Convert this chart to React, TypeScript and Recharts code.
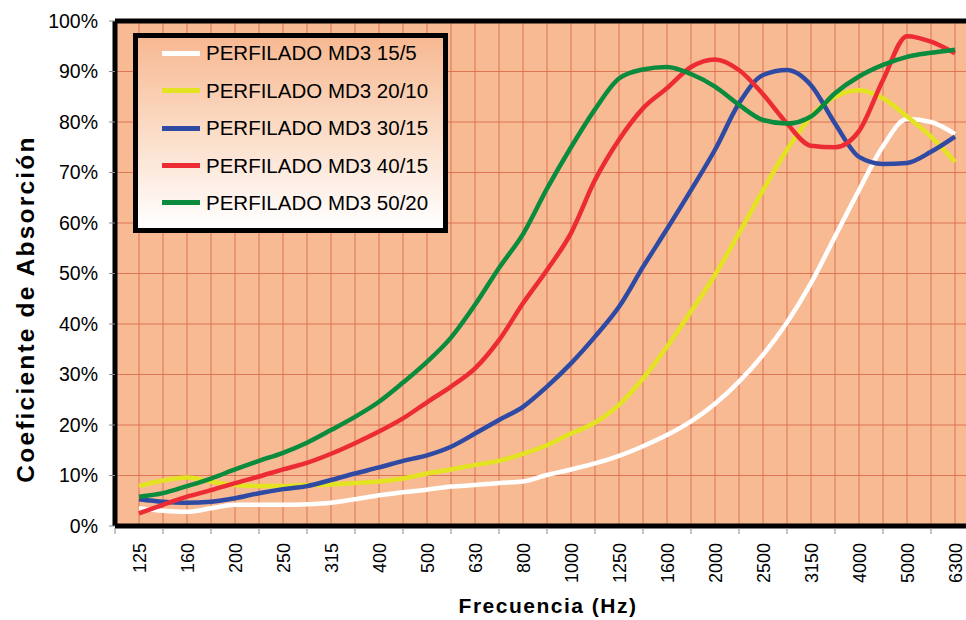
import React from 'react';
import { LineChart, Line, XAxis, YAxis, CartesianGrid, ReferenceLine } from 'recharts';

const FREQS = ['125', '160', '200', '250', '315', '400', '500', '630', '800', '1000', '1250', '1600', '2000', '2500', '3150', '4000', '5000', '6300'];
const Y_TICKS = [0, 10, 20, 30, 40, 50, 60, 70, 80, 90, 100];

// readings at every category and half-way between categories
const MD3_15_5 = [3.5, 3.0, 2.8, 3.5, 4.2, 4.2, 4.2, 4.3, 4.6, 5.3, 6.1, 6.7, 7.2, 7.8, 8.1, 8.5, 8.8, 10.1, 11.2, 12.4, 13.9, 15.8, 18.0, 20.7, 24.2, 28.6, 33.9, 40.3, 48.1, 57.3, 66.5, 75.2, 80.6, 80.0, 77.6];
const MD3_20_10 = [7.9, 9.0, 9.6, 8.8, 8.1, 7.9, 7.9, 8.1, 8.2, 8.5, 8.8, 9.4, 10.4, 11.2, 12.1, 12.9, 14.3, 16.0, 18.3, 20.5, 24.0, 29.2, 35.5, 42.5, 49.7, 58.0, 66.5, 74.5, 81.1, 85.0, 86.3, 84.7, 81.1, 77.1, 72.1];
const MD3_30_15 = [5.3, 4.8, 4.6, 4.8, 5.5, 6.5, 7.3, 7.9, 9.1, 10.4, 11.6, 12.9, 14.0, 15.7, 18.3, 21.0, 23.6, 27.6, 32.2, 37.5, 43.4, 51.3, 58.8, 66.5, 74.5, 83.7, 89.3, 90.3, 87.3, 79.7, 73.1, 71.7, 71.9, 74.1, 77.1];
const MD3_40_15 = [2.5, 4.2, 5.8, 7.1, 8.5, 9.8, 11.2, 12.5, 14.3, 16.4, 18.7, 21.3, 24.5, 27.6, 31.2, 36.8, 44.1, 50.7, 58.0, 68.5, 76.5, 82.7, 86.7, 90.9, 92.4, 90.3, 85.5, 79.7, 75.3, 75.0, 78.2, 88.3, 97.0, 95.9, 93.6];
const MD3_50_20 = [5.8, 6.5, 7.9, 9.4, 11.2, 12.9, 14.5, 16.5, 19.0, 21.6, 24.6, 28.4, 32.5, 37.3, 43.8, 51.1, 57.8, 66.8, 75.0, 82.5, 88.6, 90.4, 90.9, 89.5, 87.0, 83.4, 80.4, 79.7, 81.1, 85.7, 89.0, 91.3, 92.9, 93.7, 94.3];

const SERIES = [
  { key: 's1', name: 'PERFILADO MD3 15/5', values: MD3_15_5, color: '#FFFFFF' },
  { key: 's2', name: 'PERFILADO MD3 20/10', values: MD3_20_10, color: '#E3E322' },
  { key: 's3', name: 'PERFILADO MD3 30/15', values: MD3_30_15, color: '#2F4AA3' },
  { key: 's4', name: 'PERFILADO MD3 40/15', values: MD3_40_15, color: '#EC2B34' },
  { key: 's5', name: 'PERFILADO MD3 50/20', values: MD3_50_20, color: '#0A8B3E' },
];

const POSITIONS = FREQS.flatMap((_, i) => (i === FREQS.length - 1 ? [i] : [i, i + 0.5]));
const GRID_TICKS = [-0.5, ...FREQS.flatMap((_, i) => [i, i + 0.5])];

const data = POSITIONS.map((pos, j) => {
  const row: Record<string, number> = { pos };
  SERIES.forEach((s) => {
    row[s.key] = s.values[j];
  });
  return row;
});

const FONT = '"Liberation Sans", Arial, Helvetica, sans-serif';

const renderXTick = (props: any) => {
  const { x, y, payload } = props;
  const v = payload.value as number;
  if (Number.isInteger(v)) {
    return (
      <g>
        <text
          transform={`translate(${x + 6.5},${y + 17}) rotate(-90)`}
          textAnchor="end"
          fontSize={18}
          fontFamily={FONT}
          fill="#000"
        >
          {FREQS[v]}
        </text>
      </g>
    );
  }
  return (
    <g>
      <line x1={x} x2={x} y1={y + 2} y2={y + 8} stroke="#8a8a8a" strokeWidth={1} />
    </g>
  );
};

export default function App() {
  return (
    <div style={{ position: 'absolute', left: 0, top: 0, width: 966, height: 620, overflow: 'hidden', background: '#fff' }}>
      <LineChart width={989} height={620} data={data} margin={{ top: 21, right: 10, bottom: 0, left: 0 }}>
        <CartesianGrid
          fill="#F8BA92"
          fillOpacity={1}
          stroke="#D9694A"
          strokeWidth={1}
          strokeOpacity={0.85}
        />
        <XAxis
          dataKey="pos"
          type="number"
          domain={[-0.5, 17.5]}
          ticks={GRID_TICKS}
          interval={0}
          allowDataOverflow
          height={94}
          tickSize={0}
          tickMargin={0}
          tickLine={false}
          tick={renderXTick}
          axisLine={{ stroke: '#000', strokeWidth: 5 }}
        />
        <YAxis
          type="number"
          domain={[0, 100]}
          ticks={Y_TICKS}
          interval={0}
          width={115}
          tickSize={6}
          tickMargin={11}
          tickLine={{ stroke: '#8a8a8a' }}
          axisLine={{ stroke: '#000', strokeWidth: 5 }}
          tickFormatter={(v: number) => `${v}%`}
          tick={{ fill: '#000', fontSize: 19.5, fontFamily: FONT }}
        />
        <ReferenceLine y={100} stroke="#000" strokeWidth={5} />
        {SERIES.map((s) => (
          <Line
            key={s.key}
            type="monotone"
            dataKey={s.key}
            name={s.name}
            stroke={s.color}
            strokeWidth={4.5}
            dot={false}
            activeDot={false}
            isAnimationActive={false}
          />
        ))}
      </LineChart>

      <svg width={966} height={620} style={{ position: 'absolute', left: 0, top: 0, pointerEvents: 'none' }}>
        <text
          transform="translate(33.5,309) rotate(-90)"
          textAnchor="middle"
          fontSize={24.5}
          fontWeight="bold"
          fontFamily={FONT}
          letterSpacing={2.2}
          fill="#000"
        >
          Coeficiente de Absorción
        </text>
        <text
          x={548}
          y={613}
          textAnchor="middle"
          fontSize={21}
          fontWeight="bold"
          fontFamily={FONT}
          letterSpacing={1.5}
          fill="#000"
        >
          Frecuencia (Hz)
        </text>
      </svg>

      <div
        style={{
          position: 'absolute',
          left: 133,
          top: 33,
          width: 315,
          height: 200,
          boxSizing: 'border-box',
          border: '5px solid #000',
          background: 'linear-gradient(to bottom, #F7B992 0%, #FBD9C2 45%, #FFFFFF 100%)',
          fontFamily: FONT,
        }}
      >
        {SERIES.map((s, i) => (
          <div
            key={s.key}
            style={{
              position: 'absolute',
              left: 0,
              top: 15.3 + i * 37.4 - 12,
              height: 24,
              width: 305,
            }}
          >
            <div
              style={{
                position: 'absolute',
                left: 24,
                top: 9.5,
                width: 38,
                height: 5,
                background: s.color,
              }}
            />
            <div
              style={{
                position: 'absolute',
                left: 68,
                top: 0,
                lineHeight: '24px',
                fontSize: 20.5,
                color: '#000',
                whiteSpace: 'nowrap',
              }}
            >
              {s.name}
            </div>
          </div>
        ))}
      </div>
    </div>
  );
}
